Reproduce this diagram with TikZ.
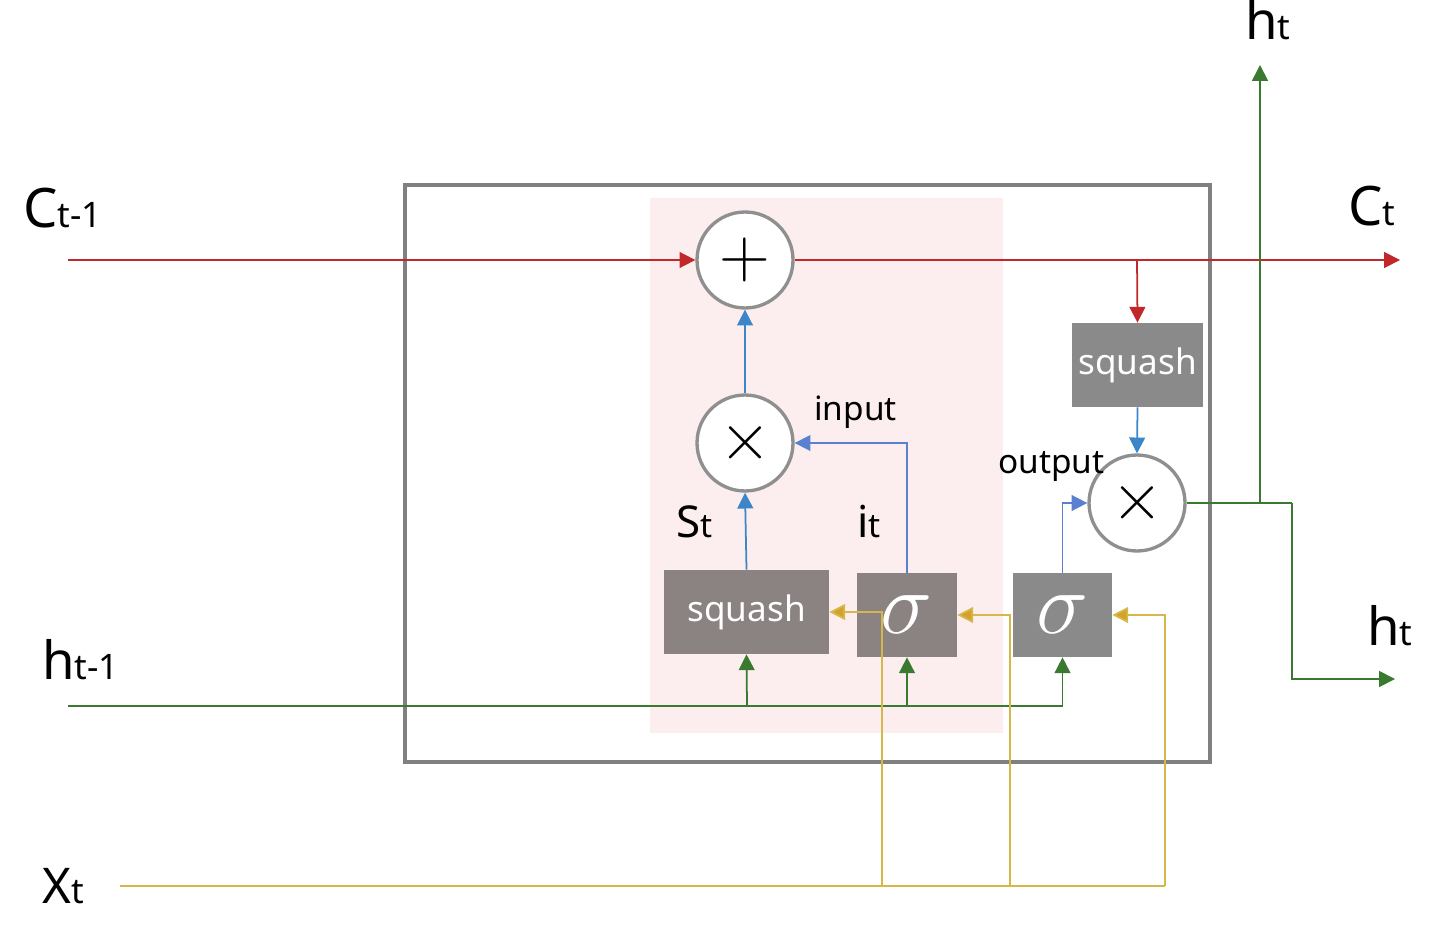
\documentclass[tikz,border=0pt]{standalone}
\usepackage{fix-cm}
\usepackage{fontspec}
\setmainfont{Noto Sans}
\usetikzlibrary{arrows.meta}
\definecolor{pinkbg}{HTML}{FCEEEE}
\definecolor{boxgray}{HTML}{8A8A8A}
\definecolor{boxbrown}{HTML}{8B8282}
\definecolor{outergray}{HTML}{808080}
\definecolor{circgray}{HTML}{8F8F8F}
\definecolor{cred}{HTML}{C0282A}
\definecolor{cblue}{HTML}{3A86C8}
\definecolor{cblueb}{HTML}{5A80D0}
\definecolor{cgreen}{HTML}{3A7A30}
\definecolor{cgold}{HTML}{D6B84A}
\definecolor{cgoldtip}{HTML}{D4A22A}
\begin{document}
\begin{tikzpicture}[x=0.02cm,y=-0.02cm,
  tip/.style={-{Triangle[length=9pt,width=9pt]}},
  goldtip/.style={-{Triangle[length=9pt,width=9pt,fill=cgoldtip]}},
  redline/.style={draw=cred,line width=1pt},
  blueline/.style={draw=cblue,line width=1pt},
  bluebline/.style={draw=cblueb,line width=1pt},
  greenline/.style={draw=cgreen,line width=1pt},
  goldline/.style={draw=cgold,line width=1pt},
  opcirc/.style={circle,draw=circgray,line width=1.9pt,fill=white,minimum size=1.92cm,inner sep=0pt},
  plustext/.style={font=\fontsize{40}{40}\selectfont},
  timestext/.style={font=\fontsize{38}{38}\selectfont},
  gbox/.style={rectangle,fill=boxgray,minimum height=1.68cm,inner sep=0pt,text=white},
  sqtext/.style={font=\fontsize{20}{20}\selectfont},
  sigtext/.style={font=\fontsize{50}{50}\selectfont},
  biglbl/.style={anchor=base west,inner sep=0pt},
  smalllbl/.style={anchor=base west,inner sep=0pt,font=\fontsize{19}{19}\selectfont}
]
\useasboundingbox (0,0) rectangle (1452,942);
% background regions
\fill[pinkbg] (650,198) rectangle (1003,733);
\draw[outergray,line width=2.2pt] (405,185) rectangle (1210,762);

% operators
\node[opcirc,plustext] (plus) at (745,260) {$+$};
\node[opcirc,timestext] (mul1) at (745,443) {$\times$};
\node[opcirc,timestext] (mul2) at (1137,503) {$\times$};

% boxes
\node[gbox,fill=boxbrown,minimum width=3.3cm,sqtext] (sqL) at (746.5,612) {squash};
\node[gbox,fill=boxbrown,minimum width=2.0cm,sigtext] (sig1) at (907,615) {$\sigma$};
\node[gbox,minimum width=1.98cm,sigtext] (sig2) at (1062.5,615) {$\sigma$};
\node[gbox,minimum width=2.62cm,sqtext] (sqR) at (1137.5,365) {squash};

% free ends and junctions
\coordinate (cin) at (68,260);
\coordinate (cout) at (1400,260);
\coordinate (cbr) at (1137,260);
\coordinate (hin) at (68,706);
\coordinate (hb1) at (747,706);
\coordinate (hb2) at (907,706);
\coordinate (xin) at (120,886);
\coordinate (xb1) at (882,886);
\coordinate (xb2) at (1010,886);
\coordinate (xend) at (1165,886);
\coordinate (hturn) at (1292,503);
\coordinate (hbr) at (1260,503);
\coordinate (hout) at (1395,679);
\coordinate (htop) at (1260,65);

% cell state
\draw[redline,tip] (cin) -- (plus.west);
\draw[redline,tip] (plus.east) -- (cout);
\draw[redline,tip] (cbr) -- (sqR.north);

% blue
\draw[blueline,tip] (sqR.south) -- (mul2.north);
\draw[blueline,tip] (mul1.north) -- (plus.south);
\draw[blueline,tip] (sqL.north) -- (mul1.south);
\draw[bluebline,tip] (sig1.north) |- (mul1.east);
\draw[bluebline,tip] (sig2.north) |- (mul2.west);

% hidden state out
\draw[greenline] (mul2.east) -- (hturn);
\draw[greenline,tip] (hturn) |- (hout);
\draw[greenline,tip] (hbr) -- (htop);

% h_{t-1} in
\draw[greenline,tip] (hin) -| (sig2.south);
\draw[greenline,tip] (hb1) -- (sqL.south);
\draw[greenline,tip] (hb2) -- (sig1.south);

% x_t in
\draw[goldline] (xin) -- (xend);
\draw[goldline,goldtip] (xend) |- (sig2.east);
\draw[goldline,goldtip] (xb2) |- (sig1.east);
\draw[goldline,goldtip] (xb1) |- (sqL.east);

% labels
\node[biglbl] (lc0) at (23,228) {\fontsize{31}{31}\selectfont C\fontsize{20}{20}\selectfont t-1};
\node[biglbl] (lc1) at (1348,226) {\fontsize{31}{31}\selectfont C\fontsize{20}{20}\selectfont t};
\node[biglbl] (lht) at (1245,40) {\fontsize{30}{30}\selectfont h\fontsize{20}{20}\selectfont t};
\node[biglbl] (lhr) at (1367,645) {\fontsize{30}{30}\selectfont h\fontsize{20}{20}\selectfont t};
\node[biglbl] (lh0) at (42,679) {\fontsize{30}{30}\selectfont h\fontsize{20}{20}\selectfont t-1};
\node[biglbl] (lx) at (42,903) {\fontsize{28}{28}\selectfont X\fontsize{20}{20}\selectfont t};
\node[biglbl] (ls) at (676,537) {\fontsize{25}{25}\selectfont S\fontsize{19}{19}\selectfont t};
\node[biglbl] (li) at (857,537) {\fontsize{25}{25}\selectfont i\fontsize{19}{19}\selectfont t};
\node[smalllbl] (linput) at (814,420) {input};
\node[smalllbl] (loutput) at (998,473) {output};
\end{tikzpicture}
\end{document}
